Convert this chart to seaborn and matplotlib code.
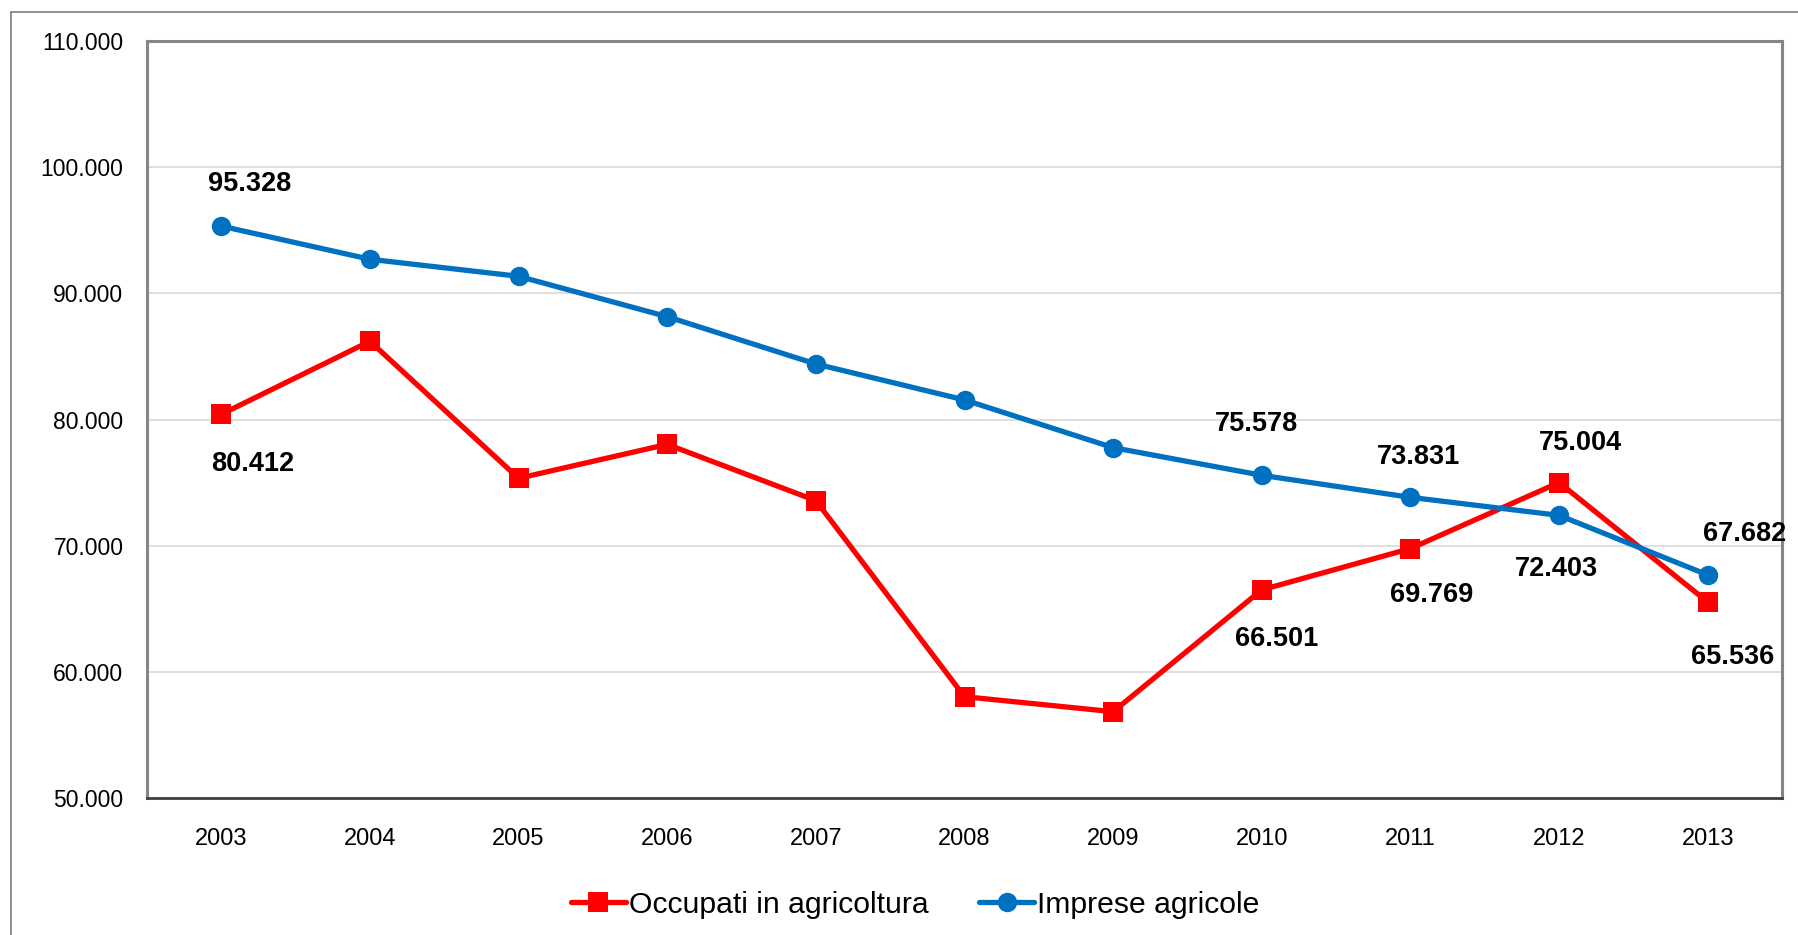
import matplotlib
matplotlib.use("Agg")
import matplotlib.pyplot as plt
from matplotlib.lines import Line2D
from matplotlib.ticker import FuncFormatter, MultipleLocator
import seaborn as sns
import pandas as pd

years = ["2003", "2004", "2005", "2006", "2007", "2008", "2009", "2010", "2011", "2012", "2013"]
occupati = [80412, 86200, 75340, 78030, 73570, 58030, 56840, 66501, 69769, 75004, 65536]
imprese = [95328, 92700, 91350, 88150, 84400, 81550, 77770, 75578, 73831, 72403, 67682]
series_names = ["Occupati in agricoltura", "Imprese agricole"]

# labelled points: year index -> label offset in pixels (dx, dy), dy positive = up
labels_occ = {0: (31, -50), 7: (15, -49), 8: (21, -46), 9: (21, 40), 10: (25, -55)}
labels_imp = {0: (28, 42), 7: (-5, 51), 8: (8, 40), 9: (-3, -54), 10: (37, 41)}

sns.set_theme(style="white")
plt.rcParams["font.family"] = ["Liberation Sans", "DejaVu Sans"]

df = pd.DataFrame({
    "x": list(range(len(years))) * 2,
    "value": occupati + imprese,
    "serie": [series_names[0]] * len(years) + [series_names[1]] * len(years),
})

fig = plt.figure(figsize=(17.98, 9.35), dpi=100)
ax = fig.add_axes([147 / 1798, 137 / 935, (1782 - 147) / 1798, (798 - 41) / 935])

palette = {series_names[0]: "#FF0000", series_names[1]: "#0070C0"}
markers = {series_names[0]: "s", series_names[1]: "o"}
sns.lineplot(data=df, x="x", y="value", hue="serie", style="serie",
             hue_order=series_names, style_order=series_names,
             palette=palette, markers=markers, dashes=False,
             linewidth=3.8, markersize=14, markeredgewidth=0,
             legend=False, ax=ax)

ax.set_xlim(-0.5, len(years) - 0.5)
ax.set_ylim(50000, 110000)
ax.yaxis.set_major_locator(MultipleLocator(10000))
fmt = lambda v: f"{int(round(v)):,}".replace(",", ".")
ax.yaxis.set_major_formatter(FuncFormatter(lambda v, p: fmt(v)))
ax.set_xticks(range(len(years)))
ax.set_xticklabels(years)
ax.set_xlabel("")
ax.set_ylabel("")
ax.tick_params(axis="y", labelsize=16.5, pad=17, length=0, colors="black")
ax.tick_params(axis="x", labelsize=17, pad=21.5, length=0, colors="black")

ax.grid(axis="y", color="#D9D9D9", linewidth=1.2)
ax.set_axisbelow(True)
for side in ["top", "left", "right"]:
    ax.spines[side].set_color("#868686")
    ax.spines[side].set_linewidth(2.2)
ax.spines["bottom"].set_color("#404040")
ax.spines["bottom"].set_linewidth(2.0)

for vals, labs in [(occupati, labels_occ), (imprese, labels_imp)]:
    for i, (dx, dy) in labs.items():
        ax.annotate(fmt(vals[i]), (i, vals[i]), xytext=(dx, dy),
                    textcoords="offset pixels", ha="center", va="center",
                    fontsize=19.5, fontweight="bold", color="black")

# outer chart frame
fx = 11 / 1798
fy = 1 - 12 / 935
fig.add_artist(Line2D([fx, 1.0], [fy, fy], transform=fig.transFigure, color="#7F7F7F", linewidth=1.2))
fig.add_artist(Line2D([fx, fx], [0.0, fy], transform=fig.transFigure, color="#7F7F7F", linewidth=1.2))

handles = [ax.lines[0], ax.lines[1]]
leg = fig.legend(handles=handles, labels=series_names, loc="center", bbox_to_anchor=(0.509, 0.0325),
                 ncol=2, frameon=False, handlelength=1.83, handletextpad=0.1, columnspacing=1.67,
                 prop={"family": "Liberation Sans", "size": 21.7})
for t in leg.get_texts():
    t.set_color("black")

fig.savefig("out.png", dpi=100)
